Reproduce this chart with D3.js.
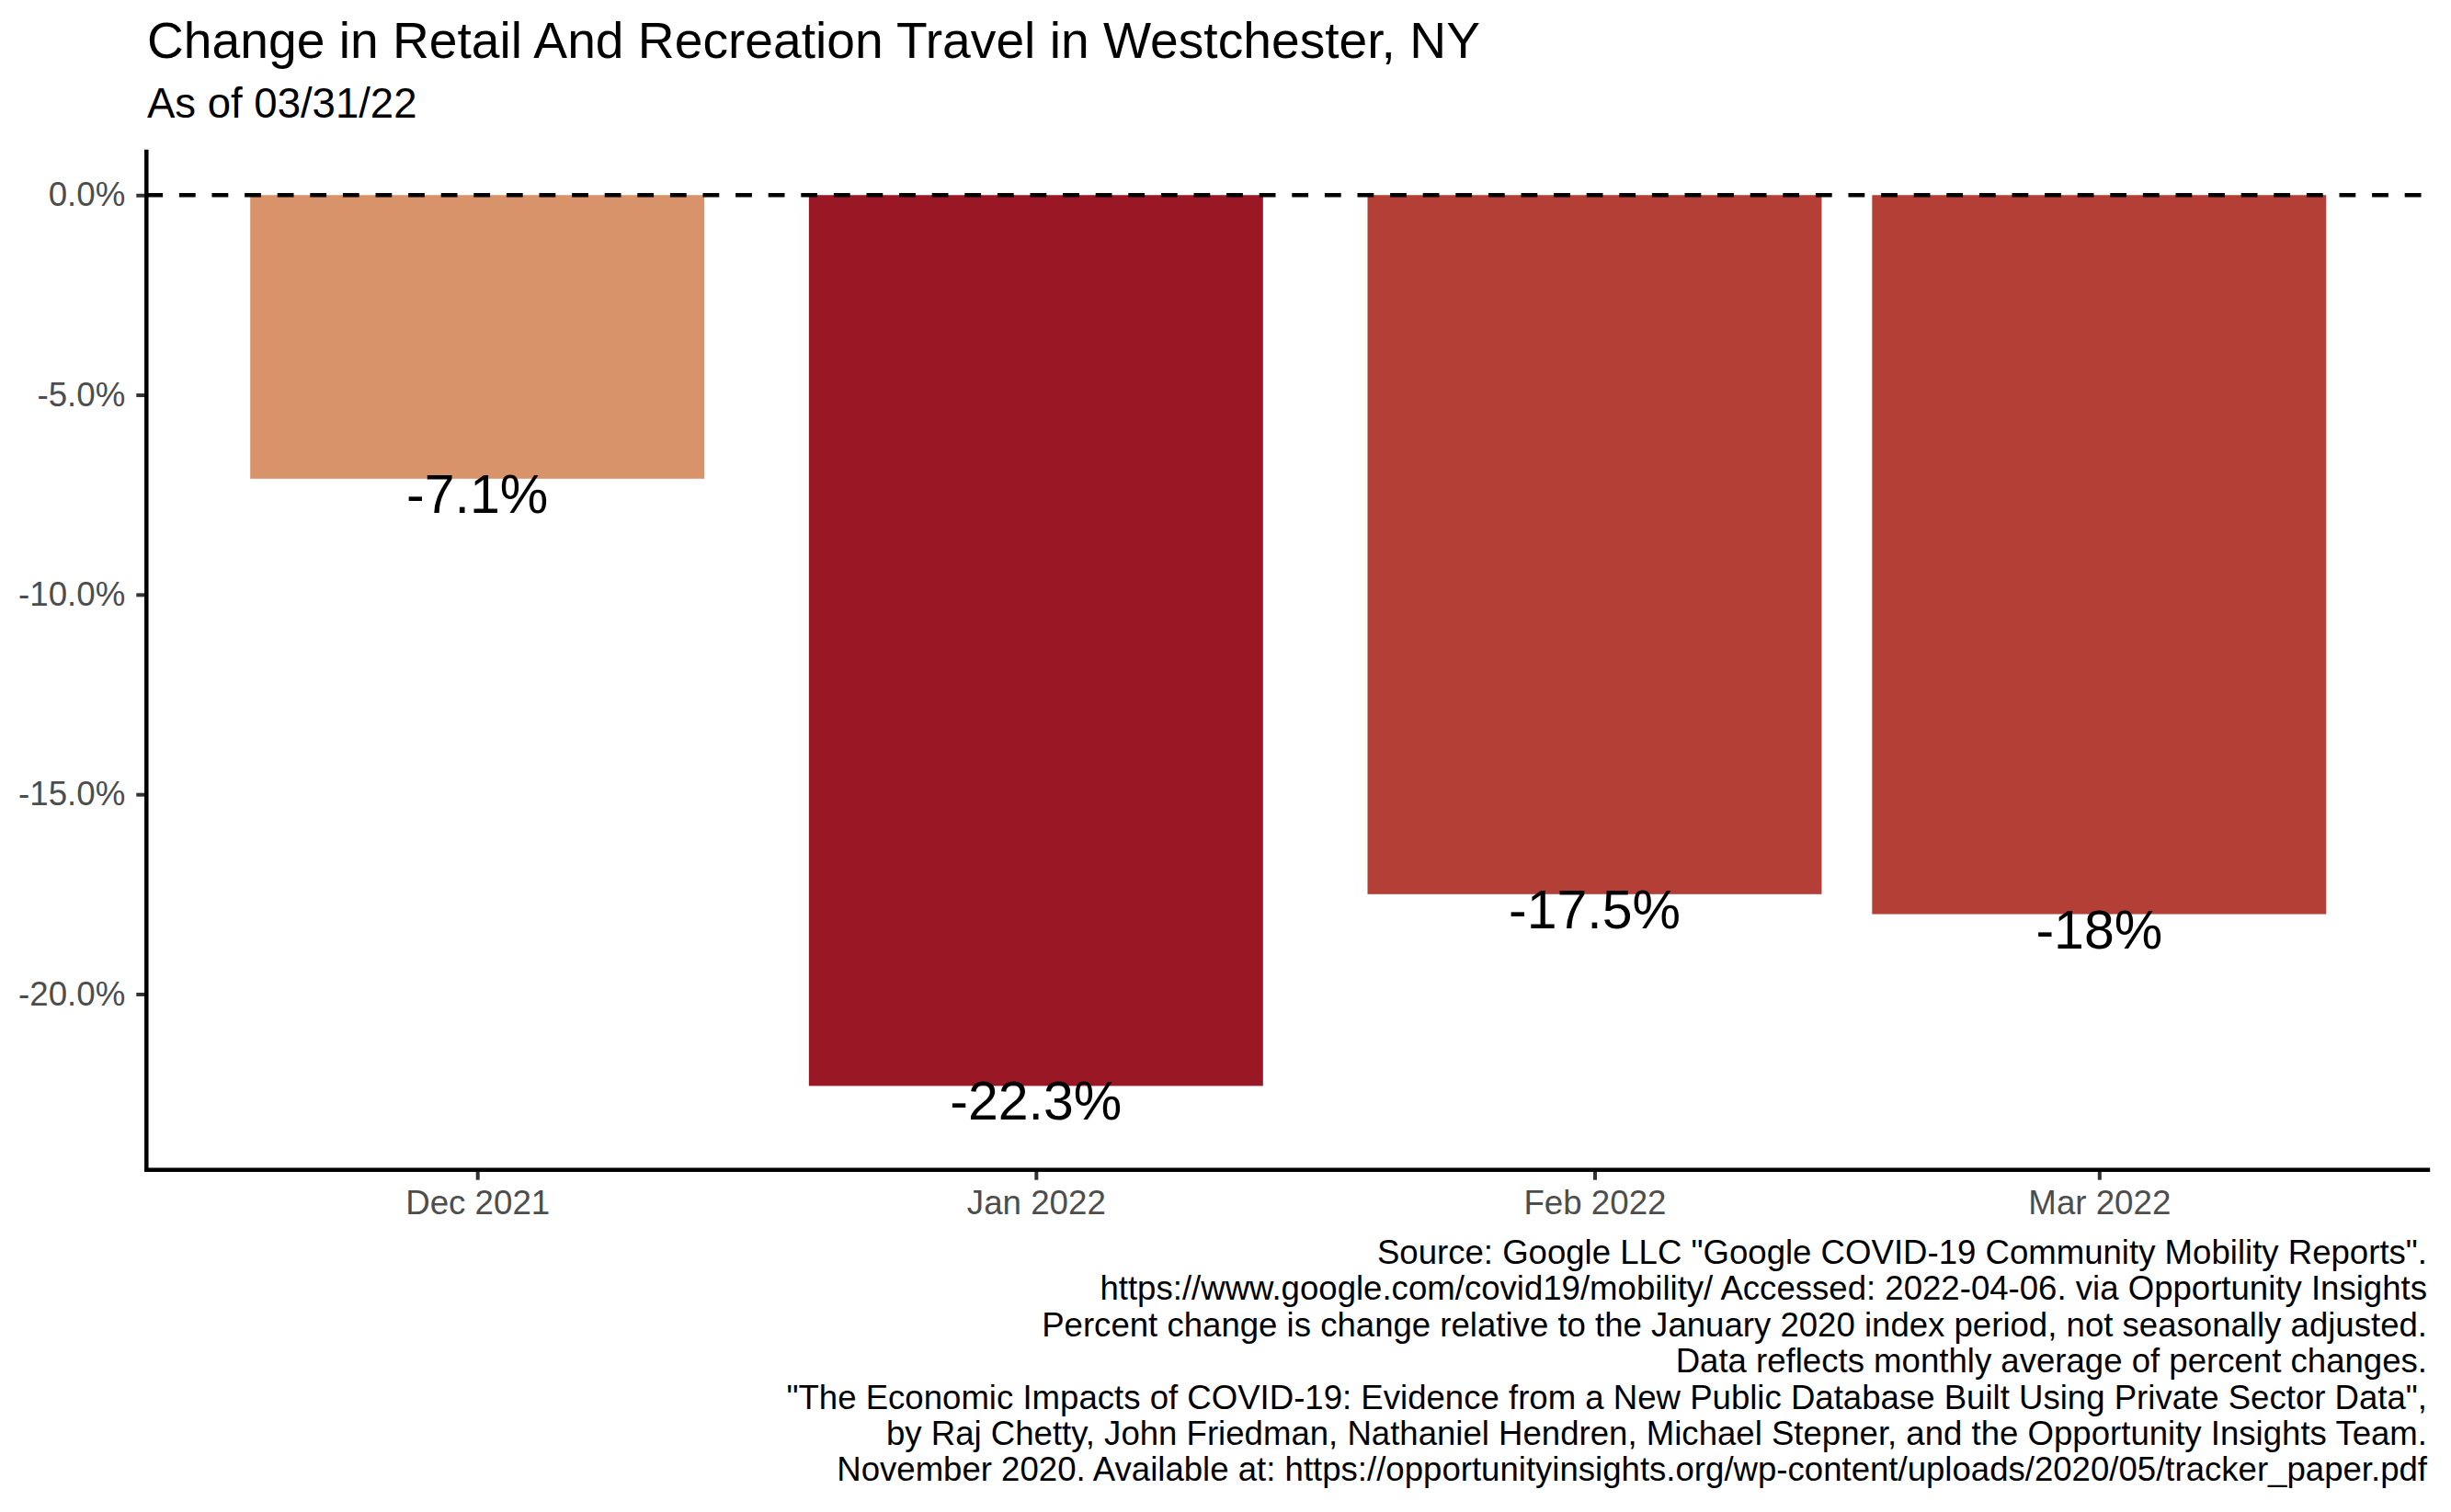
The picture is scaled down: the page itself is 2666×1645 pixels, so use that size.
<!DOCTYPE html>
<html><head><meta charset="utf-8">
<script src="https://cdn.jsdelivr.net/npm/d3@7"></script>
<style>
body{margin:0;background:#fff}
text{font-family:"Liberation Sans",Arial,Helvetica,sans-serif}
</style>
</head><body><svg id="chart" width="2666" height="1645"></svg>
<script>
// ---- data ----
const months = ["2021-12-01","2022-01-01","2022-02-01","2022-03-01"];
const monthLabels = ["Dec 2021","Jan 2022","Feb 2022","Mar 2022"];
const values = [-7.1,-22.3,-17.5,-18.0];
const valueLabels = ["-7.1%","-22.3%","-17.5%","-18%"];
const barColors = ["#D9936B","#9A1826","#B33F37","#B33F37"];
const yTicks = [0,-5,-10,-15,-20];
const titleText = "Change in Retail And Recreation Travel in Westchester, NY";
const subtitleText = "As of 03/31/22";
const captionLines = [
  "Source: Google LLC \"Google COVID-19 Community Mobility Reports\".",
  "https://www.google.com/covid19/mobility/ Accessed: 2022-04-06. via Opportunity Insights",
  "Percent change is change relative to the January 2020 index period, not seasonally adjusted.",
  "Data reflects monthly average of percent changes.",
  "\"The Economic Impacts of COVID-19: Evidence from a New Public Database Built Using Private Sector Data\",",
  "by Raj Chetty, John Friedman, Nathaniel Hendren, Michael Stepner, and the Opportunity Insights Team.",
  "November 2020. Available at: https://opportunityinsights.org/wp-content/uploads/2020/05/tracker_paper.pdf"
];

// ---- layout ----
const DAY = 86400000;
const parse = d3.utcParse("%Y-%m-%d");
const dates = months.map(parse);
const halfBar = 12.6;   // days (0.9 * 28 / 2)
const pad = 18.36;      // days
const panel = {left:159.3, right:2643.2, top:162.7, bottom:1272.7};

const svg = d3.select("#chart");
svg.append("rect").attr("width",2666).attr("height",1645).attr("fill","#fff");

const x = d3.scaleUtc()
  .domain([new Date(+dates[0] - pad*DAY), new Date(+dates[dates.length-1] + pad*DAY)])
  .range([panel.left, panel.right]);
const y = d3.scaleLinear().domain([-24.4, 1.14]).range([panel.bottom, panel.top]);

const data = dates.map((d,i)=>({date:d, value:values[i], label:valueLabels[i], color:barColors[i]}));

// bars
svg.append("g").selectAll("rect").data(data).join("rect")
  .attr("x", d => x(new Date(+d.date - halfBar*DAY)))
  .attr("width", d => x(new Date(+d.date + halfBar*DAY)) - x(new Date(+d.date - halfBar*DAY)))
  .attr("y", d => y(0))
  .attr("height", d => y(d.value) - y(0))
  .attr("fill", d => d.color);

// dashed zero line
svg.append("line")
  .attr("x1", panel.left).attr("x2", panel.right)
  .attr("y1", y(0)).attr("y2", y(0))
  .attr("stroke","#000").attr("stroke-width",4.3)
  .attr("stroke-dasharray","17.8 17.8");

// value labels
svg.append("g").selectAll("text").data(data).join("text")
  .attr("x", d => x(d.date))
  .attr("y", d => y(d.value) + 37)
  .attr("text-anchor","middle")
  .attr("font-size",59)
  .attr("fill","#000")
  .text(d => d.label);

// y axis
const yAxis = svg.append("g").attr("transform",`translate(${panel.left},0)`)
  .call(d3.axisLeft(y).tickValues(yTicks).tickSize(11).tickPadding(12)
        .tickFormat(d => d.toFixed(1) + "%"));
yAxis.select(".domain").remove();
yAxis.selectAll(".tick line").attr("stroke","#333").attr("stroke-width",4);
yAxis.selectAll(".tick text").attr("fill","#4D4D4D").attr("font-size",36.7)
  .attr("font-family","Liberation Sans, Arial, sans-serif");

// x axis
const xAxis = svg.append("g").attr("transform",`translate(0,${panel.bottom})`)
  .call(d3.axisBottom(x).tickValues(dates).tickSize(11).tickPadding(11)
        .tickFormat((d,i) => monthLabels[i]));
xAxis.select(".domain").remove();
xAxis.selectAll(".tick line").attr("stroke","#333").attr("stroke-width",4);
xAxis.selectAll(".tick text").attr("fill","#4D4D4D").attr("font-size",36.7)
  .attr("font-family","Liberation Sans, Arial, sans-serif");

// axis lines
svg.append("line").attr("x1",panel.left).attr("x2",panel.left)
  .attr("y1",panel.top).attr("y2",panel.bottom+2.2)
  .attr("stroke","#000").attr("stroke-width",4.5);
svg.append("line").attr("x1",panel.left-2.2).attr("x2",panel.right)
  .attr("y1",panel.bottom).attr("y2",panel.bottom)
  .attr("stroke","#000").attr("stroke-width",4.5);

// title & subtitle
svg.append("text").attr("x",160).attr("y",62.7).attr("font-size",55.2).attr("fill","#000").text(titleText);
svg.append("text").attr("x",160).attr("y",128.3).attr("font-size",45.5).attr("fill","#000").text(subtitleText);

// caption
svg.append("g").selectAll("text").data(captionLines).join("text")
  .attr("x",2640).attr("y",(d,i)=>1375 + i*39.4)
  .attr("text-anchor","end").attr("font-size",36.6).attr("fill","#000")
  .text(d=>d);
</script>
</body></html>
